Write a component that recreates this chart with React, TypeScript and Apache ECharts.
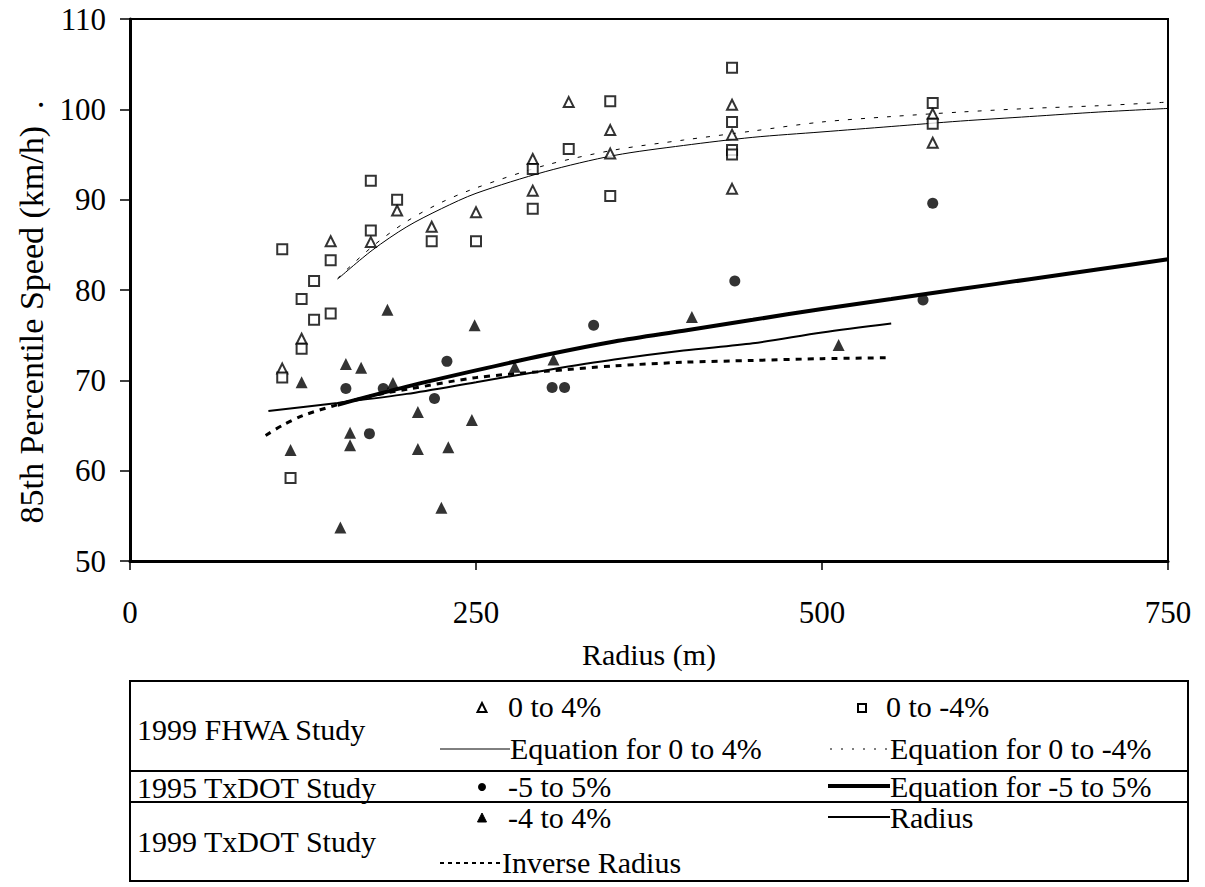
import React, { useEffect, useRef } from "react";
import * as echarts from "echarts";

// ---- data (radius m, 85th percentile speed km/h) ----
const fhwaUp: number[][] = [
  [110, 71.3], [124, 74.6], [145, 85.4], [174, 85.3], [193, 88.8], [218, 87.0],
  [250, 88.6], [291, 94.5], [291, 91.0], [317, 100.8], [347, 97.7], [347, 95.1],
  [435, 100.5], [435, 97.2], [435, 91.2], [580, 99.5], [580, 96.3],
];
const fhwaDown: number[][] = [
  [110, 84.5], [110, 70.3], [116, 59.2], [124, 79.0], [124, 73.5], [133, 81.0],
  [133, 76.7], [145, 83.3], [145, 77.4], [174, 92.1], [174, 86.6], [193, 90.0],
  [218, 85.4], [250, 85.4], [291, 93.4], [291, 89.0], [317, 95.6], [347, 100.9],
  [347, 90.4], [435, 104.6], [435, 98.6], [435, 95.5], [435, 95.0], [580, 100.7],
  [580, 98.4],
];
const txdot95: number[][] = [
  [156, 69.1], [173, 64.1], [183, 69.1], [220, 68.0], [229, 72.1], [305, 69.2],
  [314, 69.2], [335, 76.1], [437, 81.0], [573, 78.9], [580, 89.6],
];
const txdot99: number[][] = [
  [116, 62.3], [124, 69.8], [152, 53.7], [156, 71.8], [159, 64.2], [159, 62.8],
  [167, 71.4], [186, 77.8], [190, 69.7], [208, 66.5], [208, 62.4], [225, 55.9],
  [230, 62.6], [247, 65.6], [249, 76.1], [278, 71.5], [306, 72.3], [406, 77.0],
  [512, 73.9],
];
const eqUp: number[][] = [
  [150, 81.2], [175, 84.4], [200, 87.0], [225, 89.0], [250, 90.7], [300, 93.1],
  [350, 94.9], [400, 96.0], [450, 96.9], [500, 97.5], [550, 98.1], [600, 98.7],
  [650, 99.2], [700, 99.7], [750, 100.1],
];
const eqDown: number[][] = [
  [150, 81.3], [175, 84.8], [200, 87.6], [225, 89.7], [250, 91.3], [300, 93.8],
  [350, 95.5], [400, 96.6], [450, 97.6], [500, 98.6], [550, 99.2], [600, 99.7],
  [650, 100.1], [700, 100.4], [750, 100.8],
];
const eq95: number[][] = [
  [150, 67.3], [200, 69.3], [250, 71.1], [300, 72.8], [350, 74.3], [400, 75.5],
  [450, 76.7], [500, 77.9], [550, 79.0], [600, 80.1], [650, 81.2], [700, 82.3],
  [750, 83.4],
];
const radiusModel: number[][] = [
  [100, 66.6], [150, 67.5], [200, 68.5], [250, 69.8], [300, 71.1], [350, 72.3],
  [400, 73.3], [450, 74.1], [500, 75.3], [550, 76.3],
];
const inverseModel: number[][] = [
  [98, 63.9], [110, 65.0], [125, 66.1], [150, 67.3], [175, 68.3], [200, 69.0],
  [250, 70.3], [300, 71.0], [350, 71.6], [400, 72.0], [450, 72.2], [500, 72.4],
  [550, 72.5],
];
const xTicks = [0, 250, 500, 750];
const yRange = [50, 110];

const FAMILY = "'Liberation Serif', 'Times New Roman', serif";

function buildLegend(): any[] {
  const fs = 30;
  const txt = (x: number, y: number, s: string) => ({
    type: "text", x, y,
    style: { text: s, font: `${fs}px ${FAMILY}`, fill: "#000", verticalAlign: "middle", align: "left" },
  });
  const ln = (x1: number, x2: number, y: number, w: number, dash?: number[]) => ({
    type: "line", shape: { x1, y1: y, x2, y2: y },
    style: { stroke: "#000", lineWidth: w, lineDash: dash || null },
  });
  const tri = (cx: number, cy: number, filled: boolean) => ({
    type: "polygon",
    shape: { points: [[cx, cy - 5], [cx - 4.5, cy + 4], [cx + 4.5, cy + 4]] },
    style: { fill: filled ? "#000" : "#fff", stroke: "#000", lineWidth: filled ? 1 : 2 },
  });
  return [
    { type: "rect", shape: { x: 130, y: 681, width: 1058, height: 200 }, style: { fill: "none", stroke: "#000", lineWidth: 2 } },
    ln(130, 1188, 771, 2),
    ln(130, 1188, 802, 2),
    txt(137, 729, "1999 FHWA Study"),
    tri(482, 708, false), txt(508, 706, "0 to 4%"),
    { type: "rect", shape: { x: 858, y: 704, width: 8, height: 8 }, style: { fill: "#fff", stroke: "#000", lineWidth: 2 } },
    txt(886, 706, "0 to -4%"),
    ln(440, 510, 749, 1), txt(510, 748, "Equation for 0 to 4%"),
    ln(830, 890, 749, 1, [2, 9]), txt(890, 748, "Equation for 0 to -4%"),
    txt(137, 787, "1995 TxDOT Study"),
    { type: "circle", shape: { cx: 482, cy: 787, r: 4 }, style: { fill: "#000" } },
    txt(508, 786, "-5 to 5%"),
    ln(828, 890, 786, 4), txt(890, 786, "Equation for -5 to 5%"),
    tri(482, 818, true), txt(508, 817, "-4 to 4%"),
    ln(828, 890, 817, 2), txt(890, 817, "Radius"),
    txt(137, 841, "1999 TxDOT Study"),
    ln(440, 500, 863, 2, [4, 4]), txt(502, 862, "Inverse Radius"),
  ];
}

export default function App() {
  const ref = useRef<HTMLDivElement>(null);
  useEffect(() => {
    if (!ref.current) return;
    const chart = echarts.init(ref.current, null, { renderer: "svg" });
    const lineSeries = (name: string, data: number[][], width: number, type: any) => ({
      name, type: "line", data, symbol: "none", smooth: 0.3, z: 2,
      lineStyle: { color: "#000", width, type },
    });
    chart.setOption({
      animation: false,
      backgroundColor: "#fff",
      textStyle: { fontFamily: FAMILY, color: "#000" },
      grid: { left: 130, top: 19, width: 1038, height: 542, show: true, borderColor: "#000", borderWidth: 2, backgroundColor: "transparent" },
      xAxis: {
        type: "value", min: xTicks[0], max: xTicks[xTicks.length - 1], interval: 250,
        name: "Radius (m)", nameLocation: "middle", nameGap: 78,
        nameTextStyle: { fontFamily: FAMILY, fontSize: 30, color: "#000" },
        axisLine: { show: true, onZero: false, lineStyle: { color: "#000", width: 3 } },
        axisTick: { show: true, inside: false, length: 9, lineStyle: { color: "#000", width: 1.5 } },
        axisLabel: { margin: 36, fontFamily: FAMILY, fontSize: 31, color: "#000" },
        splitLine: { show: false },
      },
      yAxis: {
        type: "value", min: yRange[0], max: yRange[1], interval: 10,
        name: "85th Percentile Speed (km/h)  .", nameLocation: "middle", nameGap: 74,
        nameTextStyle: { fontFamily: FAMILY, fontSize: 34, color: "#000", padding: [0, 44, 0, 0] },
        axisLine: { show: true, onZero: false, lineStyle: { color: "#000", width: 3 } },
        axisTick: { show: true, inside: false, length: 10, lineStyle: { color: "#000", width: 1.5 } },
        axisLabel: { margin: 24, fontFamily: FAMILY, fontSize: 31, color: "#000" },
        splitLine: { show: false },
      },
      series: [
        lineSeries("Equation for 0 to 4%", eqUp, 1, "solid"),
        lineSeries("Equation for 0 to -4%", eqDown, 1, [4, 9]),
        lineSeries("Equation for -5 to 5%", eq95, 4, "solid"),
        lineSeries("Radius", radiusModel, 2, "solid"),
        lineSeries("Inverse Radius", inverseModel, 3, [6, 6]),
        {
          name: "0 to 4%", type: "scatter", data: fhwaUp, symbol: "triangle", symbolSize: 10, z: 3,
          itemStyle: { color: "#fff", borderColor: "#000", borderWidth: 2 },
        },
        {
          name: "0 to -4%", type: "scatter", data: fhwaDown, symbol: "rect", symbolSize: 10, z: 3,
          itemStyle: { color: "#fff", borderColor: "#000", borderWidth: 2 },
        },
        {
          name: "-5 to 5%", type: "scatter", data: txdot95, symbol: "circle", symbolSize: 11, z: 3,
          itemStyle: { color: "#000" },
        },
        {
          name: "-4 to 4%", type: "scatter", data: txdot99, symbol: "triangle", symbolSize: 12, z: 3,
          itemStyle: { color: "#000" },
        },
      ],
      graphic: buildLegend(),
    });
    return () => chart.dispose();
  }, []);
  return (
    <div
      ref={ref}
      style={{ position: "absolute", left: 0, top: 0, width: 1205, height: 887, background: "#fff" }}
    />
  );
}
